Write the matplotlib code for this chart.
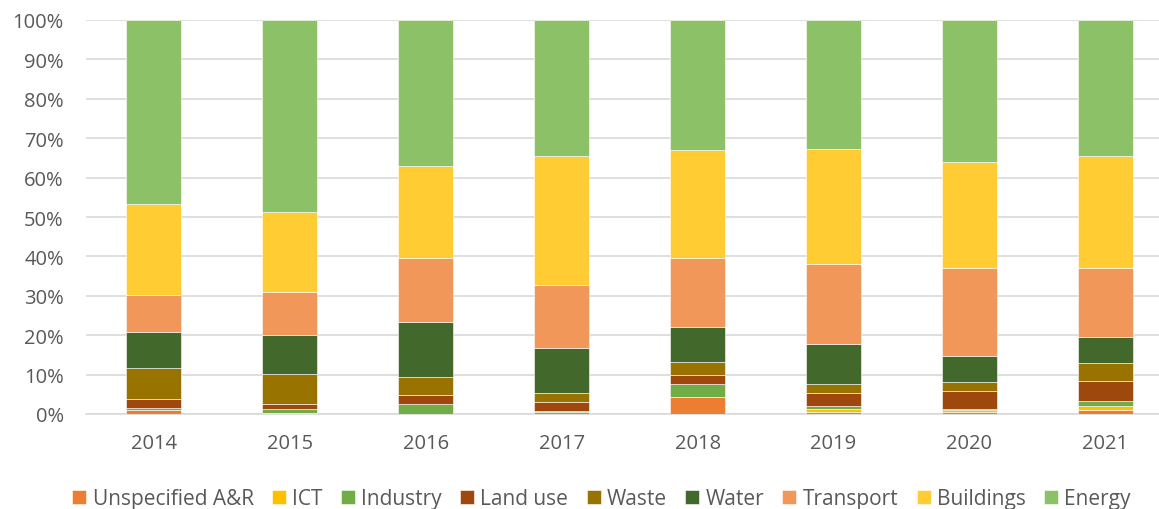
import matplotlib
matplotlib.use("Agg")
import matplotlib.pyplot as plt
import numpy as np

years = ["2014", "2015", "2016", "2017", "2018", "2019", "2020", "2021"]
unspecified = [1.0, 0.3, 0.0, 0.4, 4.3, 0.6, 0.4, 0.9]
ict = [0.0, 0.0, 0.0, 0.0, 0.0, 0.7, 0.5, 1.1]
industry = [0.5, 1.0, 2.5, 0.4, 3.3, 0.7, 0.4, 1.3]
land_use = [2.3, 1.2, 2.2, 2.2, 2.2, 3.3, 4.5, 5.2]
waste = [7.8, 7.7, 4.8, 2.3, 3.4, 2.3, 2.3, 4.4]
water = [9.2, 9.8, 13.9, 11.5, 8.9, 10.1, 6.6, 6.6]
transport = [9.5, 11.0, 16.2, 15.9, 17.5, 20.4, 22.4, 17.6]
buildings = [23.0, 20.3, 23.3, 32.8, 27.4, 29.2, 26.9, 28.4]

series_names = ["Unspecified A&R", "ICT", "Industry", "Land use", "Waste",
                "Water", "Transport", "Buildings", "Energy"]
colors = ["#ED7D31", "#FFC000", "#70AD47", "#9E480E", "#997300",
          "#43682B", "#F1975A", "#FFCD33", "#8CC168"]

parts = [unspecified, ict, industry, land_use, waste, water, transport, buildings]
energy = [100 - sum(p[i] for p in parts) for i in range(len(years))]
all_series = parts + [energy]

plt.rcParams['font.family'] = ['Open Sans', 'DejaVu Sans']
fig = plt.figure(figsize=(11.59, 5.10), dpi=100)
ax = fig.add_axes([86/1159, 95/510, (1159-86)/1159, (415-21)/510])

x = np.arange(len(years))
bottom = np.zeros(len(years))
handles = []
for name, vals, c in zip(series_names, all_series, colors):
    v = np.array(vals)
    h = ax.bar(x, v, bottom=bottom, width=0.405, color=c, label=name,
               edgecolor='white', linewidth=0.4, zorder=3)
    handles.append(h)
    bottom += v

ax.set_ylim(0, 100)
ax.set_xlim(-0.5, (1159-154)/135.9)
ax.set_yticks(np.arange(0, 101, 10))
ax.set_yticklabels([f"{t}%" for t in range(0, 101, 10)])
ax.set_xticks(x)
ax.set_xticklabels(years)
ax.yaxis.grid(True, color="#D9D9D9", linewidth=1.2, zorder=0)
ax.set_axisbelow(True)
for s in ["top", "right", "left"]:
    ax.spines[s].set_visible(False)
ax.spines["bottom"].set_color("#D9D9D9")
ax.spines["bottom"].set_linewidth(1.2)
ax.tick_params(axis='both', length=0, labelsize=14.5, colors="#595959")
ax.tick_params(axis='y', pad=16)
ax.tick_params(axis='x', pad=14)

fig.legend(handles=handles, labels=series_names, loc='center',
           bbox_to_anchor=(0.519, 0.02), ncol=9, frameon=False,
           fontsize=15, handlelength=0.67, handleheight=0.67,
           handletextpad=0.3, columnspacing=0.88, labelcolor="#595959")

fig.savefig("out.png", dpi=100)
